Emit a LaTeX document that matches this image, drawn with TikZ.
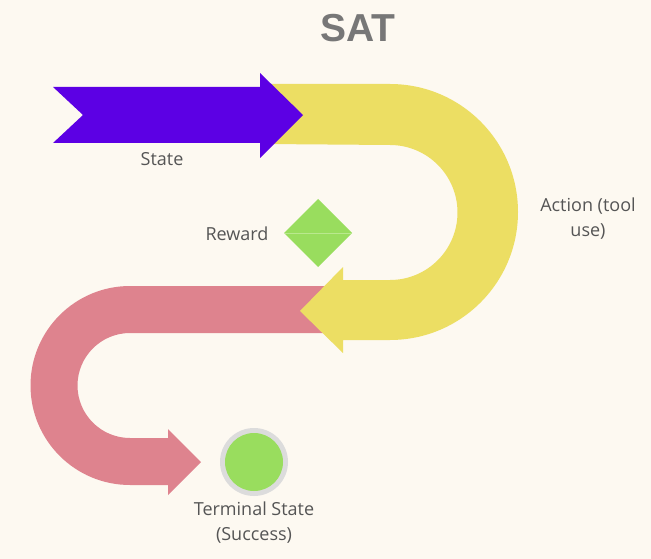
\documentclass[tikz,border=0pt]{standalone}
\usepackage{fontspec}
\setmainfont{Open Sans}
\newfontfamily\headfont{Liberation Sans}
\definecolor{paper}{HTML}{FDF9F1}
\definecolor{statecol}{HTML}{5C00E4}
\definecolor{actioncol}{HTML}{ECDE63}
\definecolor{backcol}{HTML}{DE838E}
\definecolor{goodcol}{HTML}{99DD5E}
\definecolor{seamcol}{HTML}{B9E88E}
\definecolor{ringcol}{HTML}{DCDCDC}
\definecolor{labelcol}{HTML}{555555}
\definecolor{titlecol}{HTML}{777777}

\begin{document}
\begin{tikzpicture}[x=1pt, y=-1pt
            , lbl/.style={text=labelcol, align=center, font=\fontsize{18}{25}\selectfont},
            title/.style={text=titlecol, font=\headfont\fontsize{39}{40}\selectfont\bfseries}]
        \fill[paper] (0,0) rectangle (651,559);
        \useasboundingbox (0,0) rectangle (651,559);
        % pink band back to the left and down
        \fill[backcol] (335,286) -- (130,286) arc[start angle=270, end angle=90, radius=99.5]
            -- (168,485) -- (168,495) -- (201,462) -- (168,429) -- (168,438) -- (130,438)
            arc[start angle=90, end angle=270, radius=52.5] -- (335,333) -- cycle;
        % yellow u-turn
        \fill[actioncol] (265,84) -- (390,84) arc[start angle=-90, end angle=90, radius=128]
            -- (343,340) -- (343,353) -- (300,311) -- (343,267) -- (343,280) -- (390,280)
            arc[start angle=90, end angle=-90, radius=67.5] -- (265,144) -- cycle;
        % purple state arrow
        \fill[statecol] (53,87) -- (260,87) -- (260,73) -- (303,115) -- (260,158)
            -- (260,143) -- (53,143) -- (83,115) -- cycle;
        % reward diamond
        \fill[goodcol] (318,199) -- (352,233) -- (318,267) -- (284,233) -- cycle;
        \draw[seamcol, line width=0.8pt] (284.5,233) -- (351.5,233);
        % terminal state
        \node[circle, fill=ringcol, minimum size=68pt, inner sep=0pt] (term) at (254,462) {};
        \node[circle, fill=goodcol, minimum size=58pt, inner sep=0pt] at (term) {};
        % texts
        \node[title] (sat) at (358,28) {SAT};
        \node[lbl] (state) at (162,159) {State};
        \node[lbl] (reward) at (237,234) {Reward};
        \node[lbl] (action) at (588,219) {Action (tool\\use)};
        \node[lbl] (termlbl) at (254,523) {Terminal State\\(Success)};
\end{tikzpicture}
\end{document}
